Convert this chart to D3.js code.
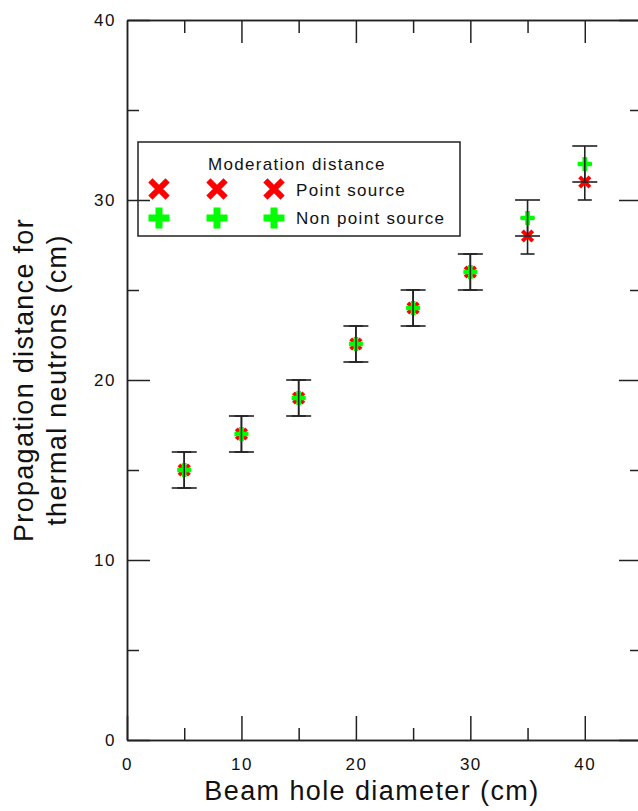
<!DOCTYPE html>
<html>
<head>
<meta charset="utf-8">
<script src="https://cdn.jsdelivr.net/npm/d3@7"></script>
<style>
  body { margin: 0; background: #fff; }
  text { font-family: "Liberation Sans", Arial, sans-serif; fill: #111; }
</style>
</head>
<body>
<div id="chart"></div>
<script>
// beam hole diameter (cm)
const diameters = [5, 10, 15, 20, 25, 30, 35, 40];
// moderation distance, point source
const pointSource = [15, 17, 19, 22, 24, 26, 28, 31];
const pointErr = [1, 1, 1, 1, 1, 1, 1, 1];
// moderation distance, non point source
const nonPointSource = [15, 17, 19, 22, 24, 26, 29, 32];
const nonPointErr = [1, 1, 1, 1, 1, 1, 1, 1];

const xTicks = [0, 10, 20, 30, 40];
const yTicks = [0, 10, 20, 30, 40];
const xMinor = [5, 15, 25, 35, 45];
const yMinor = [5, 15, 25, 35];

const width = 638, height = 811;
const margin = { top: 20, right: -4, bottom: 71, left: 127 };
const axisColor = "#222";

const svg = d3.select("#chart")
    .append("svg")
    .attr("width", width)
    .attr("height", height);

// scales: x runs past the right edge of the picture
const x = d3.scaleLinear().domain([0, 45]).range([margin.left, width - margin.right]);
const y = d3.scaleLinear().domain([0, 40]).range([height - margin.bottom, margin.top]);

// axes, ticks drawn inward
function styleAxis(g) {
    g.select(".domain").attr("stroke", axisColor).attr("stroke-width", 1.5);
    g.selectAll(".tick line").attr("stroke", axisColor).attr("stroke-width", 1.5);
    g.selectAll("text")
        .style("font-family", "'Liberation Sans', Arial, sans-serif")
        .style("font-size", "17px")
        .style("letter-spacing", "1.5px")
        .attr("fill", "#222");
}

svg.append("g")
    .attr("transform", "translate(0," + y(0) + ")")
    .call(d3.axisBottom(x).tickValues(xTicks).tickSize(-24).tickPadding(18).tickSizeOuter(0))
    .call(styleAxis);
svg.append("g")
    .attr("transform", "translate(0," + y(0) + ")")
    .call(d3.axisBottom(x).tickValues(xMinor).tickSize(-12).tickFormat("").tickSizeOuter(0))
    .call(styleAxis);

svg.append("g")
    .attr("transform", "translate(" + x(0) + ",0)")
    .call(d3.axisLeft(y).tickValues(yTicks).tickSize(-23).tickPadding(11).tickSizeOuter(0))
    .call(styleAxis);
svg.append("g")
    .attr("transform", "translate(" + x(0) + ",0)")
    .call(d3.axisLeft(y).tickValues(yMinor).tickSize(-12).tickFormat("").tickSizeOuter(0))
    .call(styleAxis);

// top and right mirrors
svg.append("g")
    .attr("transform", "translate(0," + y(40) + ")")
    .call(d3.axisTop(x).tickValues(xTicks.filter(d => d > 0)).tickSize(-23).tickFormat("").tickSizeOuter(0))
    .call(styleAxis);
svg.append("g")
    .attr("transform", "translate(0," + y(40) + ")")
    .call(d3.axisTop(x).tickValues(xMinor).tickSize(-13).tickFormat("").tickSizeOuter(0))
    .call(styleAxis);
svg.append("g")
    .attr("transform", "translate(" + x(45) + ",0)")
    .call(d3.axisRight(y).tickValues(yTicks).tickSize(-23).tickFormat("").tickSizeOuter(0))
    .call(styleAxis);
svg.append("g")
    .attr("transform", "translate(" + x(45) + ",0)")
    .call(d3.axisRight(y).tickValues(yMinor).tickSize(-12).tickFormat("").tickSizeOuter(0))
    .call(styleAxis);

// axis titles
svg.append("text")
    .attr("x", 372)
    .attr("y", 800)
    .attr("text-anchor", "middle")
    .style("font-size", "27px")
    .style("letter-spacing", "1.4px")
    .text("Beam hole diameter (cm)");

const yTitle = svg.append("text")
    .attr("transform", "translate(0,380) rotate(-90)")
    .attr("text-anchor", "middle")
    .style("font-size", "27px")
    .style("letter-spacing", "1.3px");
yTitle.append("tspan").attr("x", 0).attr("y", 33).text("Propagation distance for");
yTitle.append("tspan").attr("x", 0).attr("y", 66).text("thermal neutrons (cm)");

// marker shapes
const plusPath = s => d3.symbol(d3.symbolCross, s)();
function xPath(h) {
    return `M${-h},${-h}L${h},${h}M${-h},${h}L${h},${-h}`;
}

const rows = diameters.map((d, i) => ({
    d: d,
    p: pointSource[i], pe: pointErr[i],
    n: nonPointSource[i], ne: nonPointErr[i]
}));

function errorBars(key, errKey, capHalf) {
    const g = svg.append("g").attr("stroke", "#222").attr("stroke-width", 1.6);
    g.selectAll("vertLines")
        .data(rows)
        .enter()
        .append("line")
        .attr("x1", r => x(r.d))
        .attr("x2", r => x(r.d))
        .attr("y1", r => y(r[key] - r[errKey]))
        .attr("y2", r => y(r[key] + r[errKey]));
    [-1, 1].forEach(sign => {
        g.selectAll("caps")
            .data(rows)
            .enter()
            .append("line")
            .attr("x1", r => x(r.d) - capHalf)
            .attr("x2", r => x(r.d) + capHalf)
            .attr("y1", r => y(r[key] + sign * r[errKey]))
            .attr("y2", r => y(r[key] + sign * r[errKey]));
    });
}

// point source: error bars then red crosses
errorBars("p", "pe", 7);
svg.selectAll("pointMarks")
    .data(rows)
    .enter()
    .append("path")
    .attr("transform", r => "translate(" + x(r.d) + "," + y(r.p) + ")")
    .attr("d", xPath(5.2))
    .attr("stroke", "#ff0000")
    .attr("stroke-width", 4)
    .attr("fill", "none");

// non point source: green plus then error bars on top
svg.selectAll("nonPointMarks")
    .data(rows)
    .enter()
    .append("path")
    .attr("transform", r => "translate(" + x(r.d) + "," + y(r.n) + ")")
    .attr("d", plusPath(109))
    .attr("fill", "#00ff00");
errorBars("n", "ne", 12.5);

// legend
const legend = svg.append("g");
legend.append("rect")
    .attr("x", 138).attr("y", 142)
    .attr("width", 322).attr("height", 94)
    .attr("fill", "none")
    .attr("stroke", axisColor)
    .attr("stroke-width", 1.5);
legend.append("text")
    .attr("x", 208).attr("y", 170)
    .style("font-size", "17px")
    .style("letter-spacing", "1.3px")
    .text("Moderation distance");
[159, 217, 274].forEach(cx => {
    legend.append("path")
        .attr("transform", "translate(" + cx + ",189)")
        .attr("d", xPath(8.6))
        .attr("stroke", "#ff0000")
        .attr("stroke-width", 6)
        .attr("fill", "none");
    legend.append("path")
        .attr("transform", "translate(" + cx + ",218)")
        .attr("d", plusPath(245))
        .attr("fill", "#00ff00");
});
legend.append("text")
    .attr("x", 296).attr("y", 196)
    .style("font-size", "17px")
    .style("letter-spacing", "1.3px")
    .text("Point source");
legend.append("text")
    .attr("x", 296).attr("y", 224)
    .style("font-size", "17px")
    .style("letter-spacing", "1.3px")
    .text("Non point source");
</script>
</body>
</html>
